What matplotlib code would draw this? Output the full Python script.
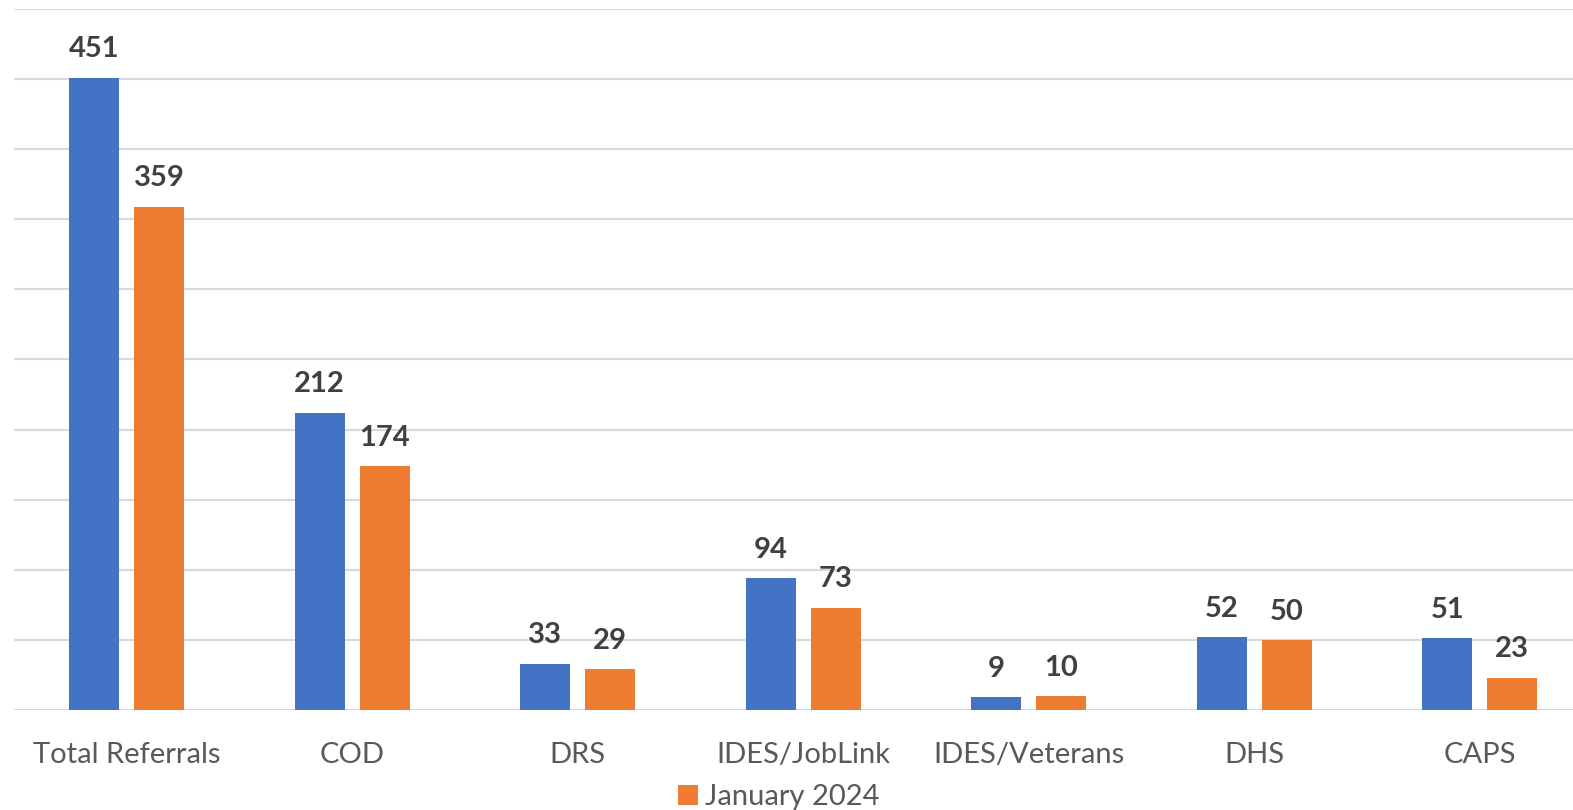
import matplotlib.pyplot as plt
import numpy as np

categories = ["Total Referrals", "COD", "DRS", "IDES/JobLink", "IDES/Veterans", "DHS", "CAPS"]
prev_vals = [451, 212, 33, 94, 9, 52, 51]
jan_vals = [359, 174, 29, 73, 10, 50, 23]
legend_label = "January 2024"

blue = "#4472C4"
orange = "#ED7D31"

plt.rcParams['font.family'] = ['Lato', 'DejaVu Sans']

W, H = 1573, 810
fig = plt.figure(figsize=(W / 100, H / 100), dpi=100)
# axes from x=14 to right edge, baseline y=708, top gridline y=9
ax = fig.add_axes([14 / W, (H - 710) / H, (W - 14) / W, (710 - 9) / H])

x = np.arange(len(categories))
bw = 0.222
off = 0.144
b1 = ax.bar(x - off, prev_vals, bw, color=blue, zorder=3)
b2 = ax.bar(x + off, jan_vals, bw, color=orange, zorder=3, label=legend_label)

for bars, vals in ((b1, prev_vals), (b2, jan_vals)):
    for b, v in zip(bars, vals):
        ax.annotate(str(v), (b.get_x() + b.get_width() / 2, v), xytext=(0, 11),
                    textcoords="offset points", ha="center", va="bottom",
                    fontsize=21, fontweight="bold", color="#404040")

ax.set_xlim(-0.5, 6.5 - (14 + 7 * 225.5 - W) / 225.5)
ax.set_ylim(0, 500)
ax.set_yticks(np.arange(0, 501, 50))
ax.yaxis.grid(True, color="#d9d9d9", linewidth=1.5, zorder=0)
ax.tick_params(axis="y", left=False, labelleft=False)
ax.set_xticks(x)
ax.set_xticklabels(categories, fontsize=21, color="#595959")
ax.tick_params(axis="x", length=0, pad=23)
for s in ax.spines.values():
    s.set_visible(False)

fig.legend(handles=[b2], labels=[legend_label], loc="lower left",
           bbox_to_anchor=(660 / W, -0.022), frameon=False, fontsize=21,
           labelcolor="#595959", handlelength=0.7, handleheight=0.7,
           handletextpad=0.25, borderaxespad=0.2)

fig.savefig("out.png", dpi=100)
